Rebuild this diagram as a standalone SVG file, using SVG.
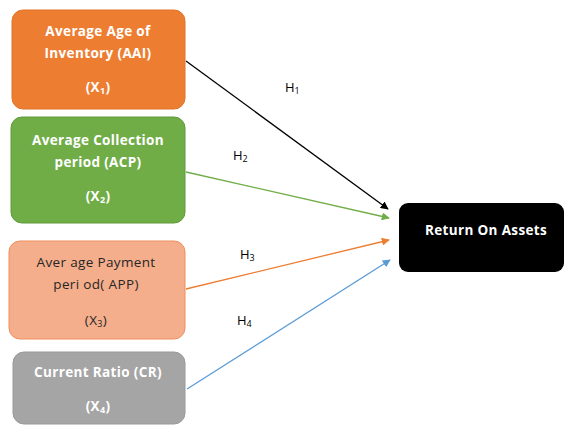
<svg xmlns="http://www.w3.org/2000/svg" width="565" height="426" viewBox="0 0 565 426">
<style>
.t{font-family:"Open Sans","Liberation Sans",sans-serif;font-size:13.5px;letter-spacing:0.35px;font-weight:bold;text-anchor:middle;fill:#fff}
.d{fill:#262626;font-weight:normal}
.h{font-family:"Open Sans","Liberation Sans",sans-serif;font-size:13px;fill:#000}
.s{font-size:9px}
.c{fill:none;stroke-width:1.3}
</style>
<defs>
<marker id="mk" viewBox="0 0 10 10" refX="9" refY="5" markerWidth="8" markerHeight="8" orient="auto" markerUnits="userSpaceOnUse"><path d="M0,0L10,5L0,10z" fill="#000"/></marker>
<marker id="mg" viewBox="0 0 10 10" refX="9" refY="5" markerWidth="8" markerHeight="8" orient="auto" markerUnits="userSpaceOnUse"><path d="M0,0L10,5L0,10z" fill="#70AD47"/></marker>
<marker id="mo" viewBox="0 0 10 10" refX="9" refY="5" markerWidth="8" markerHeight="8" orient="auto" markerUnits="userSpaceOnUse"><path d="M0,0L10,5L0,10z" fill="#ED7D31"/></marker>
<marker id="mb" viewBox="0 0 10 10" refX="9" refY="5" markerWidth="8" markerHeight="8" orient="auto" markerUnits="userSpaceOnUse"><path d="M0,0L10,5L0,10z" fill="#5B9BD5"/></marker>
</defs>
<rect width="565" height="426" fill="#fff"/>
<g id="aai">
<rect x="12" y="10" width="173" height="99" rx="11" fill="#ED7D31" stroke="#E0742A"/>
<text class="t" x="98" y="36">Average Age of</text>
<text class="t" x="98" y="58">Inventory (AAI)</text>
<text class="t" x="98" y="92">(X<tspan class="s" dy="2">1</tspan><tspan dy="-2">)</tspan></text>
</g>
<g id="acp">
<rect x="11" y="117" width="174" height="106" rx="11" fill="#70AD47" stroke="#5E9A3A"/>
<text class="t" x="98" y="145">Average Collection</text>
<text class="t" x="98" y="167">period (ACP)</text>
<text class="t" x="98" y="201">(X<tspan class="s" dy="2">2</tspan><tspan dy="-2">)</tspan></text>
</g>
<g id="app">
<rect x="9" y="241" width="176" height="98" rx="11" fill="#F5AE8C" stroke="#EE8F5C"/>
<text class="t d" x="96" y="267">Aver age Payment</text>
<text class="t d" x="96" y="289">peri od( APP)</text>
<text class="t d" x="96" y="325">(X<tspan class="s" dy="2">3</tspan><tspan dy="-2">)</tspan></text>
</g>
<g id="cr">
<rect x="13" y="352" width="172" height="72" rx="11" fill="#A5A5A5" stroke="#999"/>
<text class="t" x="98" y="377">Current Ratio (CR)</text>
<text class="t" x="98" y="411">(X<tspan class="s" dy="2">4</tspan><tspan dy="-2">)</tspan></text>
</g>
<g id="roa">
<rect x="399" y="203" width="165" height="69" rx="9" fill="#000"/>
<text class="t" x="486" y="235">Return On Assets</text>
</g>
<g id="connectors">
<line class="c" x1="186" y1="61" x2="388" y2="209" stroke="#000" marker-end="url(#mk)"/>
<line class="c" x1="186" y1="172" x2="389" y2="218" stroke="#70AD47" marker-end="url(#mg)"/>
<line class="c" x1="186" y1="289" x2="389" y2="240" stroke="#ED7D31" marker-end="url(#mo)"/>
<line class="c" x1="187" y1="389" x2="390" y2="260" stroke="#5B9BD5" marker-end="url(#mb)"/>
<text class="h" x="285" y="92">H<tspan class="s" dy="2">1</tspan></text>
<text class="h" x="233" y="160">H<tspan class="s" dy="2">2</tspan></text>
<text class="h" x="240" y="259">H<tspan class="s" dy="2">3</tspan></text>
<text class="h" x="237" y="325">H<tspan class="s" dy="2">4</tspan></text>
</g>
</svg>
